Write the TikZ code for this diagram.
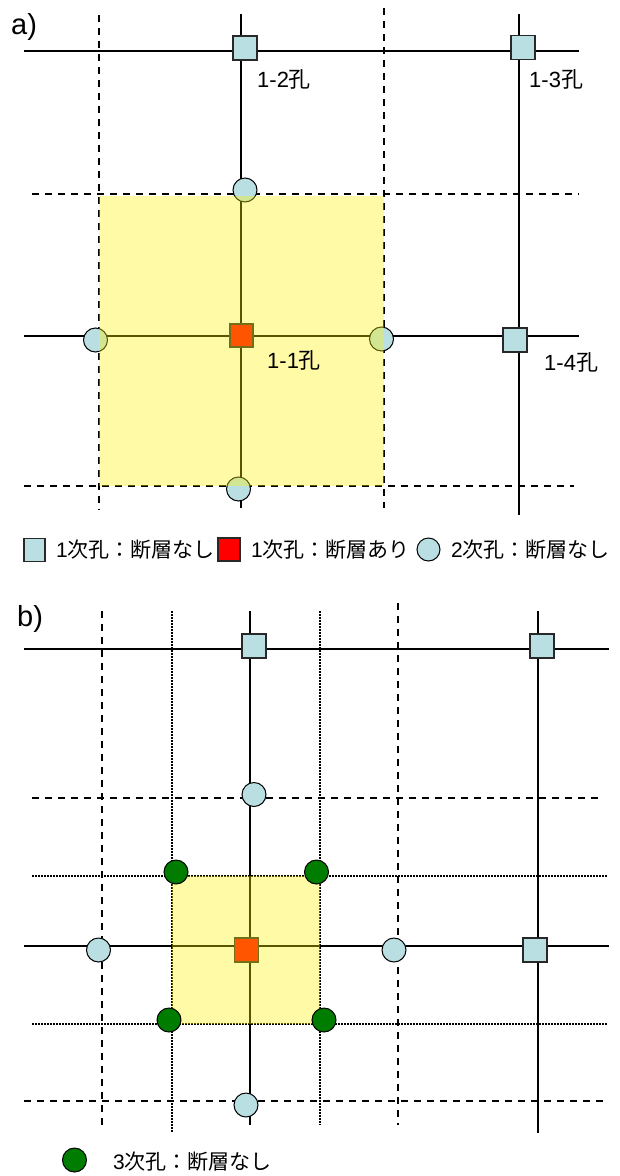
\documentclass[tikz,border=0pt]{standalone}
\usepackage{fontspec}
\setmainfont{Liberation Sans}
\newfontfamily\cjk{Noto Sans CJK JP}
\definecolor{holecyan}{RGB}{185,223,226}
\definecolor{holered}{RGB}{255,0,0}
\definecolor{holegreen}{RGB}{0,125,0}
\definecolor{edgegray}{RGB}{40,40,40}
\tikzset{
  solidln/.style={line width=1.8pt, black},
  dashln/.style={line width=1.8pt, black, dash pattern=on 7pt off 6pt},
  dotln/.style={line width=1.6pt, black, dash pattern=on 1.5pt off 1.5pt},
  sqhole/.style={draw=edgegray, line width=1.1pt, fill=holecyan, minimum width=24pt, minimum height=24pt, inner sep=0pt, rectangle},
  redhole/.style={draw=edgegray, line width=1.1pt, fill=holered, minimum width=23pt, minimum height=23pt, inner sep=0pt, rectangle},
  cirhole/.style={draw=black, line width=1pt, fill=holecyan, circle, minimum size=24pt, inner sep=0pt},
  grnhole/.style={draw=black, line width=1pt, fill=holegreen, circle, minimum size=24pt, inner sep=0pt},
  overlay/.style={fill=yellow, fill opacity=0.35, draw=none},
  lbl/.style={anchor=base west, inner sep=0pt, font=\fontsize{22}{26}\selectfont},
  leg/.style={anchor=base west, inner sep=0pt, font=\fontsize{21}{25}\selectfont},
  panel/.style={anchor=base west, inner sep=0pt, font=\fontsize{29}{33}\selectfont}
}
\begin{document}
\begin{tikzpicture}[x=1pt,y=-1pt]
\useasboundingbox (0,0) rectangle (619,1176);
\fill[white] (0,0) rectangle (619,1176);

% ================= a) =================
\node[panel] (pa) at (11,34) {a)};
% grid endpoints
\coordinate (aV1n) at (99,15);  \coordinate (aV1s) at (99,510);
\coordinate (aV2n) at (241,14); \coordinate (aV2s) at (241,508);
\coordinate (aV3n) at (384,8);  \coordinate (aV3s) at (384,508);
\coordinate (aV4n) at (519,14); \coordinate (aV4s) at (519,515);
\coordinate (aH1w) at (24,51);  \coordinate (aH1e) at (579,51);
\coordinate (aH2w) at (32,194); \coordinate (aH2e) at (579,194);
\coordinate (aH3w) at (24,336); \coordinate (aH3e) at (579,336);
\coordinate (aH4w) at (24,486); \coordinate (aH4e) at (574,486);
\draw[dashln] (aV1n) -- (aV1s);
\draw[solidln] (aV2n) -- (aV2s);
\draw[dashln] (aV3n) -- (aV3s);
\draw[solidln] (aV4n) -- (aV4s);
\draw[solidln] (aH1w) -- (aH1e);
\draw[dashln] (aH2w) -- (aH2e);
\draw[solidln] (aH3w) -- (aH3e);
\draw[dashln] (aH4w) -- (aH4e);
% holes
\node[sqhole] (a12) at (245,48) {};
\node[sqhole] (a13) at (523,47.5) {};
\node[sqhole] (a14) at (515,340) {};
\node[cirhole] (aCn) at (245,190) {};
\node[cirhole] (aCw) at (95.5,340) {};
\node[cirhole] (aCe) at (381.5,339) {};
\node[cirhole] (aCs) at (238.5,489) {};
\node[redhole] (a11) at (241.5,335.5) {};
% search area
\path[overlay] (99,196) rectangle (384,486);
% labels
\node[lbl] (la12) at (257,87) {1-2{\cjk 孔}};
\node[lbl] (la13) at (529,87) {1-3{\cjk 孔}};
\node[lbl] (la11) at (267,368) {1-1{\cjk 孔}};
\node[lbl] (la14) at (544,370) {1-4{\cjk 孔}};
% legend
\node[draw=edgegray, line width=1.1pt, fill=holecyan, minimum width=21pt, minimum height=23pt, inner sep=0pt] (lg1) at (34.5,550) {};
\node[leg] (lt1) at (56,557) {1{\cjk 次孔：断層なし}};
\node[draw=edgegray, line width=1.1pt, fill=holered, minimum width=22pt, minimum height=23pt, inner sep=0pt] (lg2) at (229,549.5) {};
\node[leg] (lt2) at (251,557) {1{\cjk 次孔：断層あり}};
\node[cirhole, minimum size=23pt] (lg3) at (428.5,549.5) {};
\node[leg] (lt3) at (451,557) {2{\cjk 次孔：断層なし}};

% ================= b) =================
\node[panel] (pb) at (17,626) {b)};
\coordinate (bV1n) at (102,611); \coordinate (bV1s) at (102,1125);
\coordinate (bV2n) at (172,611); \coordinate (bV2s) at (172,1132);
\coordinate (bV3n) at (250,611); \coordinate (bV3s) at (250,1125);
\coordinate (bV4n) at (320,611); \coordinate (bV4s) at (320,1125);
\coordinate (bV5n) at (398,603); \coordinate (bV5s) at (398,1125);
\coordinate (bV6n) at (538,611); \coordinate (bV6s) at (538,1133);
\coordinate (bH1w) at (24,649);  \coordinate (bH1e) at (609,649);
\coordinate (bH2w) at (32,798);  \coordinate (bH2e) at (604,798);
\coordinate (bH3w) at (32,876);  \coordinate (bH3e) at (608,876);
\coordinate (bH4w) at (24,946);  \coordinate (bH4e) at (609,946);
\coordinate (bH5w) at (32,1024); \coordinate (bH5e) at (608,1024);
\coordinate (bH6w) at (24,1101); \coordinate (bH6e) at (609,1101);
\draw[dashln] (bV1n) -- (bV1s);
\draw[dotln] (bV2n) -- (bV2s);
\draw[solidln] (bV3n) -- (bV3s);
\draw[dotln] (bV4n) -- (bV4s);
\draw[dashln] (bV5n) -- (bV5s);
\draw[solidln] (bV6n) -- (bV6s);
\draw[solidln] (bH1w) -- (bH1e);
\draw[dashln] (bH2w) -- (bH2e);
\draw[dotln] (bH3w) -- (bH3e);
\draw[solidln] (bH4w) -- (bH4e);
\draw[dotln] (bH5w) -- (bH5e);
\draw[dashln] (bH6w) -- (bH6e);
% holes
\node[sqhole] (b12) at (254,646) {};
\node[sqhole] (b13) at (542,646) {};
\node[sqhole] (b14) at (535,950) {};
\node[cirhole] (bCn) at (254,794.5) {};
\node[cirhole] (bCw) at (98.5,950) {};
\node[cirhole] (bCe) at (394,950) {};
\node[cirhole] (bCs) at (246,1105) {};
\node[redhole, minimum width=24pt, minimum height=24pt] (b11) at (246.5,950) {};
% search area
\path[overlay] (172,876) rectangle (320,1024);
% third-order holes
\node[grnhole] (bG1) at (176,872) {};
\node[grnhole] (bG2) at (316.5,872) {};
\node[grnhole] (bG3) at (169,1020) {};
\node[grnhole] (bG4) at (324,1020) {};
% legend
\node[grnhole] (lg4) at (74.5,1160) {};
\node[leg] (lt4) at (113,1169) {3{\cjk 次孔：断層なし}};
\end{tikzpicture}
\end{document}
